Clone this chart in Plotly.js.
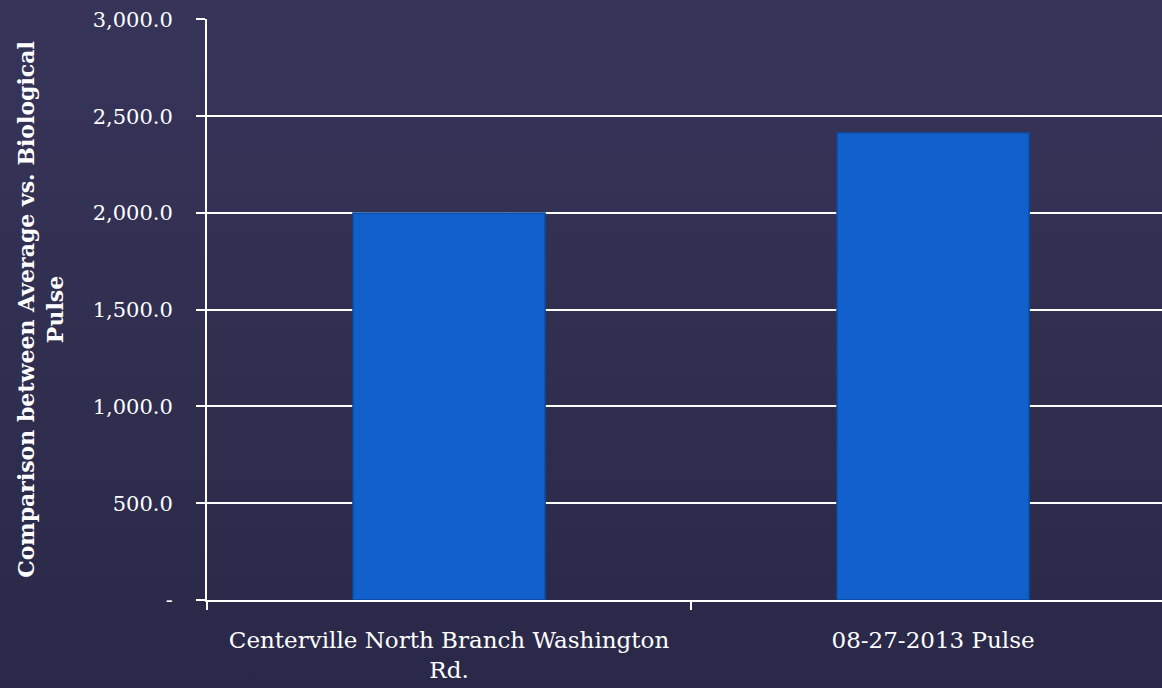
<!DOCTYPE html>
<html>
<head>
<meta charset="utf-8">
<script src="https://cdn.plot.ly/plotly-3.0.1.min.js"></script>
<style>
html,body{margin:0;padding:0;width:1162px;height:688px;overflow:hidden;
background:linear-gradient(180deg,#37345a 0%,#312f50 50%,#2a2848 100%);}
#chart{width:1162px;height:688px;}
</style>
</head>
<body>
<div id="chart"></div>
<script>
var categories = ["Centerville North Branch Washington<br>Rd.", "08-27-2013 Pulse"];
var values = [2000, 2414];
var tickVals = [0, 500, 1000, 1500, 2000, 2500, 3000];
var tickText = ["-", "500.0", "1,000.0", "1,500.0", "2,000.0", "2,500.0", "3,000.0"];
var yTitle = "Comparison between Average vs. Biological<br>Pulse";

var font = "'DejaVu Serif',serif";

var trace = {
  type: "bar",
  x: categories,
  y: values,
  width: 0.397,
  marker: {color: "#1160cc", line: {color: "#0b4a9e", width: 1.5}},
  hoverinfo: "skip"
};

var layout = {
  width: 1162, height: 688,
  paper_bgcolor: "rgba(0,0,0,0)",
  plot_bgcolor: "rgba(0,0,0,0)",
  margin: {l: 207, r: 0, t: 19, b: 88, pad: 0},
  showlegend: false,
  font: {family: font, color: "#ffffff", size: 21},
  xaxis: {
    type: "category",
    range: [-0.5, 1.473],
    tickson: "boundaries",
    ticks: "outside", ticklen: 8, tickwidth: 2, tickcolor: "#ffffff",
    showline: true, linecolor: "#ffffff", linewidth: 2,
    showgrid: false, zeroline: false,
    ticklabelstandoff: 18,
    tickfont: {family: font, size: 23, color: "#ffffff"},
    fixedrange: true
  },
  yaxis: {
    range: [0, 3002],
    tickmode: "array",
    tickvals: tickVals,
    ticktext: tickText,
    ticks: "outside", ticklen: 9, tickwidth: 2, tickcolor: "#ffffff",
    showline: true, linecolor: "#ffffff", linewidth: 2,
    showgrid: true, gridcolor: "#ffffff", gridwidth: 2,
    zeroline: false,
    ticklabelstandoff: 19,
    tickfont: {family: font, size: 21, color: "#ffffff"},
    title: {text: yTitle, font: {family: font, size: 22, color: "#ffffff", weight: "bold"}, standoff: 23},
    automargin: false,
    fixedrange: true
  }
};

Plotly.newPlot("chart", [trace], layout, {displayModeBar: false, staticPlot: true});
</script>
</body>
</html>
